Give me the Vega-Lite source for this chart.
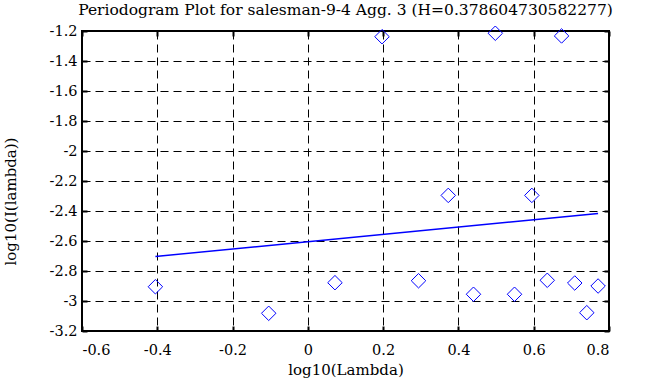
{
  "$schema": "https://vega.github.io/schema/vega-lite/v6.json",
  "width": 527,
  "height": 300,
  "autosize": {"type": "none"},
  "padding": {"left": 82, "top": 31, "right": 54, "bottom": 56},
  "background": "white",
  "title": {
    "text": "Periodogram Plot for salesman-9-4 Agg. 3 (H=0.378604730582277)",
    "font": "DejaVu Serif",
    "fontSize": 15.5,
    "fontWeight": "normal",
    "color": "black",
    "anchor": "middle",
    "offset": 5
  },
  "config": {
    "font": "DejaVu Serif",
    "style": {"guide-label": {"font": "DejaVu Serif"}, "guide-title": {"font": "DejaVu Serif"}},
    "view": {"stroke": "black", "strokeWidth": 2},
    "axis": {
      "labelFont": "DejaVu Serif",
      "titleFont": "DejaVu Serif",
      "labelFontSize": 14.5,
      "titleFontSize": 15,
      "titleFontWeight": "normal",
      "labelColor": "black",
      "titleColor": "black",
      "domain": false,
      "tickColor": "black",
      "tickWidth": 2,
      "tickSize": -5,
      "gridColor": "black",
      "gridDash": [8, 5],
      "gridWidth": 1,
      "gridOpacity": 1
    }
  },
  "datasets": {
    "points": [
      {"x": -0.405, "y": -2.905},
      {"x": -0.104, "y": -3.082},
      {"x": 0.072, "y": -2.878},
      {"x": 0.197, "y": -1.238},
      {"x": 0.294, "y": -2.865},
      {"x": 0.373, "y": -2.296},
      {"x": 0.440, "y": -2.955},
      {"x": 0.498, "y": -1.215},
      {"x": 0.549, "y": -2.955},
      {"x": 0.595, "y": -2.296},
      {"x": 0.636, "y": -2.862},
      {"x": 0.674, "y": -1.233},
      {"x": 0.709, "y": -2.880},
      {"x": 0.741, "y": -3.078},
      {"x": 0.771, "y": -2.900}
    ],
    "fit": [
      {"x": -0.405, "y": -2.703},
      {"x": 0.771, "y": -2.417}
    ]
  },
  "layer": [
    {
      "data": {"name": "fit"},
      "mark": {"type": "line", "color": "#0000ff", "strokeWidth": 1.5, "clip": true},
      "encoding": {
        "x": {
          "field": "x", "type": "quantitative",
          "scale": {"domain": [-0.6, 0.8], "nice": false, "zero": false},
          "axis": {
            "orient": "bottom",
            "title": "log10(Lambda)",
            "values": [-0.6, -0.4, -0.2, 0, 0.2, 0.4, 0.6, 0.8],
            "labelExpr": "toString(datum.value)",
            "labelFont": "DejaVu Serif",
            "labelPadding": 17,
            "titlePadding": 6,
            "grid": true
          }
        },
        "y": {
          "field": "y", "type": "quantitative",
          "scale": {"domain": [-3.2, -1.2], "nice": false, "zero": false},
          "axis": {
            "orient": "left",
            "title": "log10(I(lambda))",
            "values": [-3.2, -3, -2.8, -2.6, -2.4, -2.2, -2, -1.8, -1.6, -1.4, -1.2],
            "labelExpr": "toString(datum.value)",
            "labelFont": "DejaVu Serif",
            "labelPadding": 10,
            "titleX": -64,
            "titleY": 170,
            "titleBaseline": "bottom",
            "grid": true
          }
        }
      }
    },
    {
      "data": {"name": "points"},
      "mark": {"type": "point", "shape": "diamond", "filled": false, "color": "#0000ff", "strokeWidth": 1, "size": 210, "opacity": 1},
      "encoding": {
        "x": {
          "field": "x", "type": "quantitative",
          "axis": {
            "orient": "top",
            "title": null,
            "labels": false,
            "grid": false,
            "values": [-0.6, -0.4, -0.2, 0, 0.2, 0.4, 0.6, 0.8]
          }
        },
        "y": {
          "field": "y", "type": "quantitative",
          "axis": {
            "orient": "right",
            "title": null,
            "labels": false,
            "grid": false,
            "values": [-3.2, -3, -2.8, -2.6, -2.4, -2.2, -2, -1.8, -1.6, -1.4, -1.2]
          }
        }
      }
    }
  ]
}
